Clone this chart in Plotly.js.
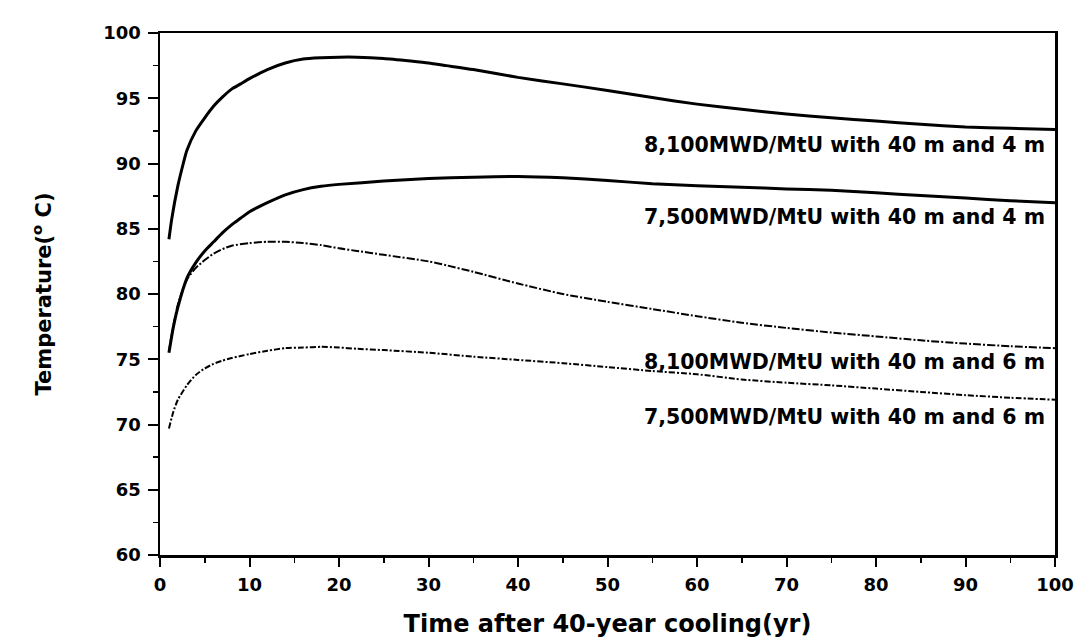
<!DOCTYPE html>
<html>
<head>
<meta charset="utf-8">
<script src="https://cdn.plot.ly/plotly-3.0.1.min.js"></script>
<style>html,body{margin:0;padding:0;background:#fff;}</style>
</head>
<body>
<div id="chart" style="width:1077px;height:638px;"></div>
<script>
// Time after 40-year cooling (yr)
const x81_4 = [1, 1.3, 2, 2.6, 3, 4, 5, 6, 7, 8, 9, 10, 12, 14, 16, 18, 20, 22, 25, 28, 30, 32, 35, 40, 45, 50, 55, 60, 65, 70, 75, 80, 85, 90, 95, 100];
const y81_4 = [84.2, 85.7, 88.3, 90.0, 91.0, 92.5, 93.5, 94.4, 95.1, 95.7, 96.1, 96.5, 97.2, 97.7, 98.0, 98.1, 98.15, 98.15, 98.05, 97.85, 97.7, 97.5, 97.2, 96.6, 96.1, 95.6, 95.05, 94.55, 94.15, 93.8, 93.5, 93.25, 93.0, 92.8, 92.7, 92.6];

const x75_4 = [1, 1.5, 2, 3, 4, 5, 6, 7, 8, 9, 10, 12, 14, 16, 18, 20, 25, 30, 35, 40, 45, 50, 55, 60, 65, 70, 75, 80, 85, 90, 95, 100];
const y75_4 = [75.5, 77.5, 79.0, 81.2, 82.4, 83.3, 84.0, 84.7, 85.3, 85.8, 86.3, 87.0, 87.6, 88.0, 88.25, 88.4, 88.65, 88.85, 88.95, 89.0, 88.9, 88.7, 88.45, 88.3, 88.18, 88.05, 87.95, 87.75, 87.55, 87.35, 87.15, 87.0];

const x81_6 = [1, 1.5, 2, 3, 4, 5, 6, 7, 8, 10, 12, 14, 16, 18, 20, 22, 25, 30, 32, 35, 40, 45, 50, 55, 60, 65, 70, 75, 80, 85, 90, 95, 100];
const y81_6 = [75.6, 77.6, 79.2, 81.1, 82.0, 82.6, 83.1, 83.45, 83.7, 83.9, 84.0, 84.0, 83.9, 83.75, 83.5, 83.3, 83.0, 82.5, 82.2, 81.7, 80.8, 80.0, 79.4, 78.85, 78.3, 77.8, 77.4, 77.05, 76.75, 76.45, 76.2, 76.0, 75.85];

const x75_6 = [1, 1.5, 2, 3, 4, 5, 6, 7, 8, 9, 10, 12, 14, 16, 18, 20, 22, 25, 30, 35, 40, 45, 50, 55, 60, 65, 70, 75, 80, 85, 90, 95, 100];
const y75_6 = [69.7, 71.0, 71.9, 73.0, 73.8, 74.3, 74.65, 74.9, 75.1, 75.25, 75.4, 75.65, 75.85, 75.9, 75.95, 75.9, 75.8, 75.7, 75.5, 75.2, 74.95, 74.7, 74.4, 74.1, 73.85, 73.45, 73.2, 73.0, 72.75, 72.5, 72.25, 72.05, 71.9];

const labels = ["8,100MWD/MtU with 40 m and 4 m", "7,500MWD/MtU with 40 m and 4 m", "8,100MWD/MtU with 40 m and 6 m", "7,500MWD/MtU with 40 m and 6 m"];
const labelY = [91.4, 85.9, 74.8, 70.6];

const FONT = "DejaVu Sans";

const traces = [
  {x: x81_4, y: y81_4, name: labels[0], mode: "lines", line: {color: "#000", width: 3, shape: "spline", smoothing: 0.6}},
  {x: x75_4, y: y75_4, name: labels[1], mode: "lines", line: {color: "#000", width: 3, shape: "spline", smoothing: 0.6}},
  {x: x81_6, y: y81_6, name: labels[2], mode: "lines", line: {color: "#000", width: 2, dash: "8px,2px,2px,2px", shape: "spline", smoothing: 0.6}},
  {x: x75_6, y: y75_6, name: labels[3], mode: "lines", line: {color: "#000", width: 2, dash: "6px,2px,2px,2px", shape: "spline", smoothing: 0.6}}
];

const annotations = labels.map((t, i) => ({
  x: 99.1, y: labelY[i], xref: "x", yref: "y", text: t, showarrow: false,
  xanchor: "right", yanchor: "middle",
  font: {family: FONT, size: 20.5, color: "#000", weight: "bold"}
}));

const layout = {
  width: 1077, height: 638,
  margin: {l: 160, r: 22, t: 33, b: 83},
  paper_bgcolor: "#fff", plot_bgcolor: "#fff",
  showlegend: false,
  font: {family: FONT, color: "#000"},
  xaxis: {
    range: [0, 100], dtick: 10, tick0: 0,
    ticks: "outside", ticklen: 9, tickwidth: 2, tickcolor: "#000",
    minor: {dtick: 5, ticks: "outside", ticklen: 5, tickwidth: 1.5, tickcolor: "#000"},
    showline: true, linewidth: 2.5, linecolor: "#000", mirror: true,
    showgrid: false, zeroline: false,
    tickfont: {family: FONT, size: 18, color: "#000", weight: "bold"},
    ticklabelstandoff: 3,
    title: {text: "Time after 40-year cooling(yr)", font: {family: FONT, size: 24, color: "#000", weight: "bold"}, standoff: 22}
  },
  yaxis: {
    range: [60, 100], dtick: 5, tick0: 60,
    ticks: "outside", ticklen: 10, tickwidth: 2, tickcolor: "#000",
    minor: {dtick: 2.5, ticks: "outside", ticklen: 5, tickwidth: 1.5, tickcolor: "#000"},
    showline: true, linewidth: 2.5, linecolor: "#000", mirror: true,
    showgrid: false, zeroline: false,
    tickfont: {family: FONT, size: 18, color: "#000", weight: "bold"},
    ticklabelstandoff: 3,
    title: {text: "Temperature(<sup>o</sup> C)", font: {family: FONT, size: 21, color: "#000", weight: "bold"}, standoff: 46}
  },
  annotations: annotations
};

Plotly.newPlot("chart", traces, layout, {displayModeBar: false, staticPlot: true});
</script>
</body>
</html>
